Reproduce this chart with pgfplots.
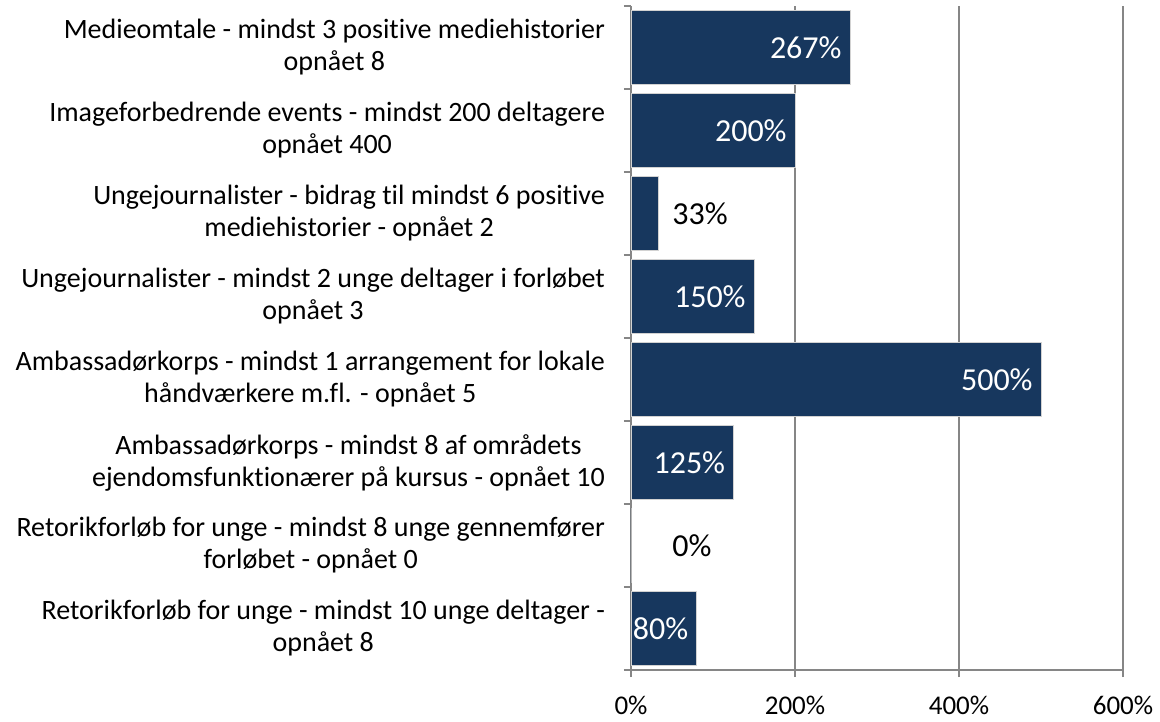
\documentclass[border=0pt]{standalone}
\usepackage{pgfplots}
\pgfplotsset{compat=1.18}
\usepackage{fontspec}
\setmainfont{Carlito}[Ligatures=NoCommon]
\definecolor{barblue}{RGB}{23,55,94}
\definecolor{axgray}{RGB}{134,134,134}

\begin{document}
\begin{tikzpicture}
\begin{axis}[
    at={(0,0)}, anchor=south west,
    scale only axis,
    width=246pt, height=332pt,
    xbar, bar width=0.9, bar shift=0pt,
    xmin=0, xmax=600,
    ymin=-0.5, ymax=7.5,
    y dir=reverse,
    axis x line*=bottom, axis y line*=left,
    axis line style={axgray, line width=0.8pt},
    tick style={axgray, line width=0.8pt},
    tick align=outside,
    major tick length=3.5pt,
    minor tick length=3.5pt,
    xtick={0,200,400,600},
    xticklabel={\pgfmathprintnumber{\tick}\%},
    /pgf/number format/assume math mode=true,
    xmajorgrids,
    grid style={axgray, line width=0.8pt},
    ytick={0,...,7},
    major y tick style={draw=none},
    minor ytick={-0.5,0.5,...,7.5},
    yticklabels={
        {Medieomtale - mindst 3 positive mediehistorier\\opnået 8},
        {Imageforbedrende events - mindst 200 deltagere\\opnået 400},
        {Ungejournalister - bidrag til mindst 6 positive\\mediehistorier - opnået 2},
        {Ungejournalister - mindst 2 unge deltager i forløbet\\opnået 3},
        {Ambassadørkorps - mindst 1 arrangement for lokale\\håndværkere m.fl.  - opnået 5},
        {Ambassadørkorps - mindst 8 af områdets\\ejendomsfunktionærer på kursus - opnået 10},
        {Retorikforløb for unge - mindst 8 unge gennemfører\\forløbet - opnået 0},
        {Retorikforløb for unge - mindst 10 unge deltager -\\opnået 8}
    },
    yticklabel style={align=center, xshift=-6pt, font=\fontsize{14}{16}\selectfont},
    xticklabel style={yshift=-6pt, font=\fontsize{13.5}{16}\selectfont},
    clip=false,
]

% bars with the value inside the end
\addplot[fill=barblue, draw=gray!35, line width=0.4pt,
    point meta=x,
    nodes near coords={\pgfmathprintnumber{\pgfplotspointmeta}\%},
    nodes near coords style={anchor=east, text=white, inner sep=4pt,
        font=\fontsize{16}{18}\selectfont},
] coordinates {
    (267,0) (200,1) (150,3) (500,4) (125,5) (80,7)
};

% bars too short for a label
\addplot[fill=barblue, draw=gray!35, line width=0.4pt] coordinates {
    (33,2) (0,6)
};

% labels beside the short bars
\addplot[draw=none, fill=none, forget plot,
    point meta=explicit symbolic,
    nodes near coords,
    nodes near coords style={anchor=west, text=black,
        font=\fontsize{16}{18}\selectfont, inner sep=0pt},
] coordinates {
    (50,2) [33\%]
    (50,6) [0\%]
};

\end{axis}
\path (-315.5pt,-24pt) rectangle (264.5pt,335pt);
\end{tikzpicture}
\end{document}
